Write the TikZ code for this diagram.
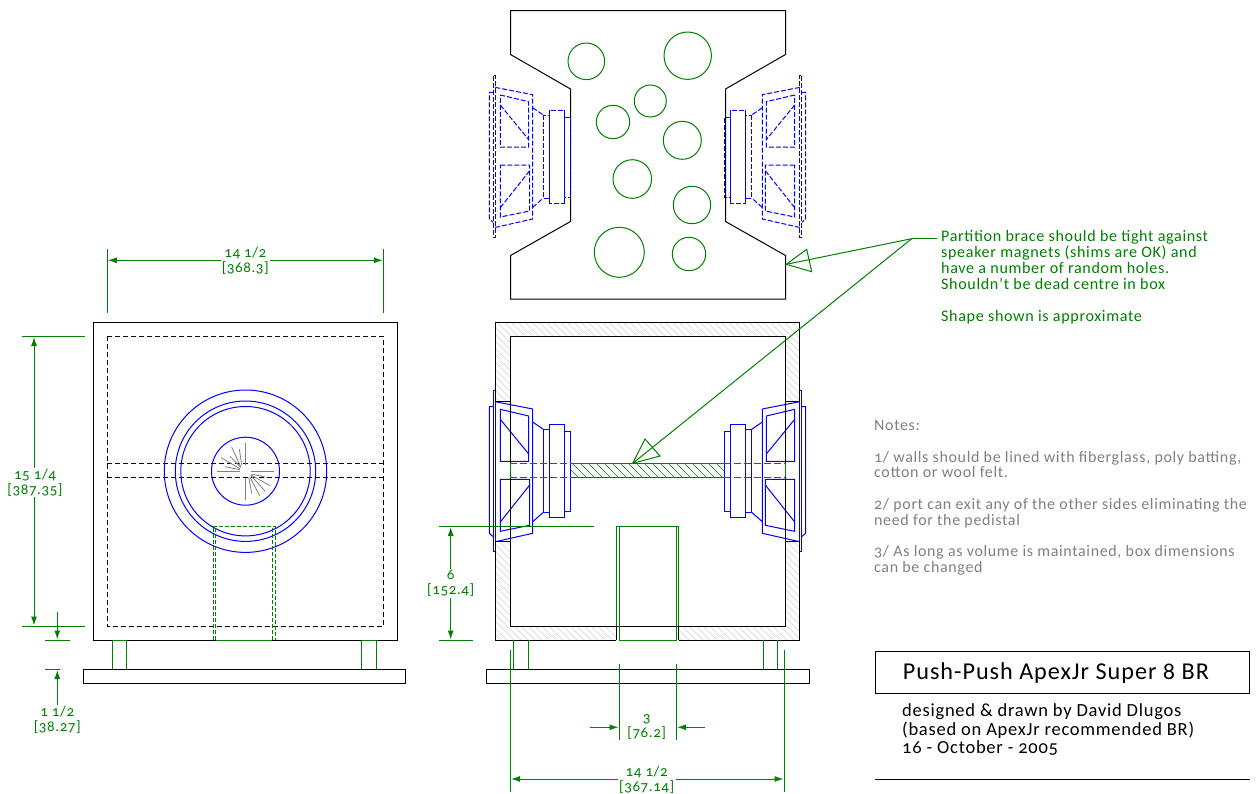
\documentclass[tikz,border=0pt]{standalone}
\usepackage{fontspec}
\setmainfont{Carlito}[Numbers=OldStyle,LetterSpace=4]
\usetikzlibrary{arrows.meta}
\definecolor{dimgreen}{RGB}{0,128,0}
\definecolor{spkblue}{RGB}{0,0,255}
\definecolor{hatchgray}{RGB}{210,210,210}
\definecolor{notegray}{RGB}{128,128,128}
\tikzset{
  boxline/.style={black,line width=1pt},
  hiddenline/.style={black,line width=1pt,dash pattern=on 5pt off 3pt},
  spkline/.style={spkblue,line width=1pt},
  spkhidden/.style={spkblue,line width=1pt,dash pattern=on 5pt off 2pt},
  holeline/.style={dimgreen,line width=1pt},
  porthidden/.style={dimgreen,line width=1pt,dash pattern=on 4pt off 2pt},
  extline/.style={dimgreen,line width=1pt},
  dimarrow/.style={dimgreen,line width=1pt,-{Latex[length=9pt,width=6pt]}},
  wallhatch/.style={hatchgray,line width=0.5pt},
  dimtext/.style={dimgreen,align=center,inner sep=1pt,font=\fontsize{15}{15}\selectfont},
}
% one driver, section through the cone
\newcommand{\drawdriver}[1]{
\draw[#1] (493.3,390) rectangle (495.3,551.7);
\draw[#1] (493.3,406.7) -- (489.3,406.7) -- (489.3,533.3) -- (493.3,536.7);
\draw[#1] (495.3,401.7) -- (532.7,409) -- (532.7,533.3) -- (495.3,541.7);
\draw[#1] (500.3,409.3) -- (528.7,416) -- (528.7,461.3) -- (500.3,461.3) -- cycle;
\draw[#1] (500.3,419.3) -- (528.7,454);
\draw[#1] (500.3,479.3) -- (529.7,479.3) -- (529.7,525.3) -- (500.3,531.3) -- cycle;
\draw[#1] (500.3,522) -- (529.7,485);
\draw[#1] (532.7,422) -- (543.3,429.3);
\draw[#1] (532.7,521.7) -- (543.3,512.3);
\draw[#1] (543.3,429.3) rectangle (549.3,512.3);
\draw[#1] (549.3,424.3) rectangle (564.7,517.3);
\draw[#1] (564.7,431.3) rectangle (570.7,511.7);
}
\begin{document}
\begin{tikzpicture}[x=1pt,y=-1pt]
\useasboundingbox (0,0) rectangle (1256,793);

% partition brace, top
\draw[boxline] (510.5,10.5) -- (785.5,10.5) -- (785.5,54.5) -- (725.5,89) -- (725.5,221.5) -- (785.5,255.5) -- (785.5,299) -- (510.5,299) -- (510.5,255.5) -- (570.5,221.5) -- (570.5,89) -- (510.5,54.5) -- cycle;
\foreach \cx/\cy/\cr in {586.3/61.3/18.3,687.7/55.7/23.7,650.3/101/16,613/122/16.7,682.3/140.3/19,632.3/179/19.3,692/205/18.7,619.3/252.3/25,689/254/16.7}
  \draw[holeline] (\cx,\cy) circle (\cr);

\begin{scope}[shift={(0,-314.3)}]
\drawdriver{spkhidden}
\draw[spkline] (549.3,424.3) -- (549.3,517.3);
\draw[spkline] (564.7,424.3) -- (564.7,517.3);
\end{scope}
\begin{scope}[shift={(1295,-314.3)},xscale=-1]
\drawdriver{spkhidden}
\draw[spkline] (549.3,424.3) -- (549.3,517.3);
\draw[spkline] (564.7,424.3) -- (564.7,517.3);
\end{scope}

% front view
\draw[boxline] (93.3,322.3) rectangle (397.7,640.3);
\draw[hiddenline] (107.3,336.3) rectangle (383.7,626.3);
\draw[hiddenline] (107.3,463.3) -- (383.7,463.3);
\draw[hiddenline] (107.3,477.3) -- (383.7,477.3);
\foreach \cr in {81.2,70.2,64.7,34}
  \draw[spkline] (245.5,471.2) circle (\cr);
\foreach \ax/\ay/\bx/\by in {245.7/443/245.7/465,239.3/449/241.7/465,231.7/447.3/240.7/466.7,230/456.3/240.7/467.3,221/457.7/240/468.7,225/466.7/240/469.7,217.3/471.3/240/471.3,250.7/471.3/274/471.3,251.3/474/265/477,251/475/270/485.7,250.7/475.3/265/491,249.7/476.7/259.7/495.7,248.7/477.3/251.7/493.3,245.7/478.3/245.7/500}
  \draw[notegray,line width=0.8pt] (\ax,\ay) -- (\bx,\by);
\draw[porthidden] (213.3,640.3) -- (213.3,526.3) -- (275.7,526.3) -- (275.7,640.3);
\draw[porthidden] (215.7,640.3) -- (215.7,528) ;
\draw[porthidden] (272.3,640.3) -- (272.3,528);
\draw[holeline] (215.7,640.3) -- (272.3,640.3);
\draw[holeline] (112.3,669.3) -- (112.3,640.3) -- (126.3,640.3) -- (126.3,669.3);
\draw[holeline] (361.3,669.3) -- (361.3,640.3) -- (376.3,640.3) -- (376.3,669.3);
\draw[boxline] (83.3,669.3) rectangle (405.7,683.3);

% section
\begin{scope}
\clip (616.3,640.3) -- (495.3,640.3) -- (495.3,322.3) -- (799.3,322.3) -- (799.3,640.3) -- (678.7,640.3) -- (678.7,626.3) -- (785.3,626.3) -- (785.3,336.3) -- (510.3,336.3) -- (510.3,626.3) -- (616.3,626.3) -- cycle;
\foreach \hx in {175,182,...,800}
  \draw[wallhatch] (\hx,322) -- ++(320,320);
\end{scope}
\fill[white] (496,402) rectangle (510,541.5);
\fill[white] (785.6,402) rectangle (799,541.5);
\begin{scope}
\clip (570.7,463.3) rectangle (724.3,477.3);
\foreach \hx in {540,548,...,724}
  \draw[holeline,line width=0.5pt] (\hx,463) -- ++(16,16);
\end{scope}
\drawdriver{spkline}
\begin{scope}[shift={(1295,0)},xscale=-1]
\drawdriver{spkline}
\end{scope}

\draw[boxline] (616.3,640.3) -- (495.3,640.3) -- (495.3,541.7) -- (510.3,541.7);
\draw[boxline] (495.3,401.7) -- (495.3,322.3) -- (799.3,322.3) -- (799.3,401.7) -- (785.3,401.7);
\draw[boxline] (510.3,401.7) -- (495.3,401.7);
\draw[boxline] (785.3,541.7) -- (799.3,541.7) -- (799.3,640.3) -- (678.7,640.3);
\draw[boxline] (510.3,463.3) -- (510.3,336.3) -- (785.3,336.3) -- (785.3,463.3);
\draw[boxline] (510.3,477.3) -- (510.3,626.3) -- (785.3,626.3) -- (785.3,477.3);
\draw[boxline] (616.3,626.3) -- (616.3,640.3);
\draw[boxline] (678.7,626.3) -- (678.7,640.3);

\draw[holeline] (510.3,463.3) -- (510.3,477.3);
\draw[holeline] (785.3,463.3) -- (785.3,477.3);
\draw[holeline] (570.7,463.3) -- (724.3,463.3);
\draw[holeline] (570.7,477.3) -- (724.3,477.3);
\draw[porthidden,dash pattern=on 7pt off 3pt] (510.3,463.3) -- (570.7,463.3);
\draw[porthidden,dash pattern=on 7pt off 3pt] (510.3,477.3) -- (570.7,477.3);
\draw[porthidden,dash pattern=on 7pt off 3pt] (724.3,463.3) -- (785.3,463.3);
\draw[porthidden,dash pattern=on 7pt off 3pt] (724.3,477.3) -- (785.3,477.3);

\draw[holeline] (616.3,626.3) -- (616.3,526.3) -- (678.7,526.3) -- (678.7,626.3);
\draw[holeline] (619.3,526.3) -- (619.3,640.3) -- (676.3,640.3) -- (676.3,526.3);
\draw[holeline] (513.3,640.3) -- (513.3,669.3);
\draw[holeline] (528.3,640.3) -- (528.3,669.3);
\draw[holeline] (763.7,640.3) -- (763.7,669.3);
\draw[holeline] (777.3,640.3) -- (777.3,669.3);
\draw[boxline] (486.3,669.3) rectangle (809.7,683.3);

% dimensions, front view
\draw[extline] (107.3,249) -- (107.3,312.7);
\draw[extline] (383.3,249) -- (383.3,312.7);
\node[dimtext] (widthfront) at (245.3,261) {14 1/2\\{}[368.3]};
\coordinate (widthfrontl) at (107.8,260.3);
\coordinate (widthfrontr) at (382.8,260.3);
\draw[dimarrow] (widthfront.west |- widthfrontl) -- (widthfrontl);
\draw[dimarrow] (widthfront.east |- widthfrontr) -- (widthfrontr);

\draw[extline] (22,336.3) -- (85,336.3);
\draw[extline] (22,626.3) -- (85,626.3);
\node[dimtext] (heightfront) at (35,482.5) {15 1/4\\{}[387.35]};
\coordinate (heightfrontt) at (34,337);
\coordinate (heightfrontb) at (34,625.5);
\draw[dimarrow] (heightfront.north -| heightfrontt) -- (heightfrontt);
\draw[dimarrow] (heightfront.south -| heightfrontb) -- (heightfrontb);

\draw[extline] (45,640.3) -- (70,640.3);
\draw[extline] (45,669.3) -- (60,669.3);
\node[dimtext] (legfront) at (57.3,719.5) {1 1/2\\{}[38.27]};
\coordinate (legfronta) at (57.3,612);
\coordinate (legfrontb) at (57.3,639.5);
\coordinate (legfrontc) at (57.3,670);
\draw[dimarrow] (legfronta) -- (legfrontb);
\draw[dimarrow] (legfront.north) -- (legfrontc);

% dimensions, section
\draw[extline] (439,526.3) -- (594,526.3);
\draw[extline] (439,640.3) -- (472.7,640.3);
\node[dimtext] (portheight) at (450.7,583.5) {6\\{}[152.4]};
\coordinate (portheightt) at (450.7,527);
\coordinate (portheightb) at (450.7,639.5);
\draw[dimarrow] (portheight.north) -- (portheightt);
\draw[dimarrow] (portheight.south) -- (portheightb);

\draw[extline] (619.3,664) -- (619.3,740);
\draw[extline] (676.3,664) -- (676.3,740);
\node[dimtext] (portwidth) at (646.7,727.5) {3\\{}[76.2]};
\coordinate (portwidtha) at (590,727.3);
\coordinate (portwidthb) at (618.5,727.3);
\coordinate (portwidthc) at (705,727.3);
\coordinate (portwidthd) at (677,727.3);
\draw[dimarrow] (portwidtha) -- (portwidthb);
\draw[dimarrow] (portwidthc) -- (portwidthd);

\draw[extline] (510.3,650) -- (510.3,792);
\draw[extline] (784.3,650) -- (784.3,792);
\node[dimtext] (widthsect) at (646.7,779.5) {14 1/2\\{}[367.14]};
\coordinate (widthsectl) at (511,779);
\coordinate (widthsectr) at (783.5,779);
\draw[dimarrow] (widthsect.west |- widthsectl) -- (widthsectl);
\draw[dimarrow] (widthsect.east |- widthsectr) -- (widthsectr);

% leaders to the brace
\coordinate (leader) at (911.7,238.7);
\coordinate (leaderend) at (936.7,238.7);
\coordinate (tiptop) at (786.3,264.3);
\coordinate (tipsect) at (632.7,463.3);
\draw[holeline] (leaderend) -- (leader);
\draw[holeline] (leader) -- (tiptop);
\draw[holeline] (leader) -- (tipsect);
\draw[holeline] (tiptop) -- (806.7,249.3) -- (811.7,271.7) -- cycle;
\draw[holeline] (tipsect) -- (645,439) -- (660,456) -- cycle;

\node[dimgreen,anchor=north west,align=left,inner sep=0,font=\fontsize{16.1}{16}\selectfont] (bracenote) at (941,230) {Partition brace should be tight against\\speaker magnets (shims are OK) and\\have a number of random holes.\\Shouldn't be dead centre in box\\\mbox{}\\Shape shown is approximate};

\node[notegray,anchor=north west,align=left,inner sep=0,font=\fontsize{16}{15.8}\selectfont] (notes) at (874,420) {Notes:\\\mbox{}\\1/ walls should be lined with fiberglass, poly batting,\\cotton or wool felt.\\\mbox{}\\2/ port can exit any of the other sides eliminating the\\need for the pedistal\\\mbox{}\\3/ As long as volume is maintained, box dimensions\\can be changed};

% title block
\node[boxline,draw,minimum width=374.4pt,minimum height=42pt,inner sep=0] (titlebox) at (1062.5,672.3) {};
\node[anchor=west,inner sep=0,font=\fontsize{24.2}{24}\selectfont] (title) at (902.7,673.5) {Push-Push ApexJr Super 8 BR};
\node[anchor=north west,align=left,inner sep=0,font=\fontsize{18.5}{18.7}\selectfont] (credit) at (902,703.5) {designed \& drawn by David Dlugos\\(based on ApexJr recommended BR)\\16 - October - 2005};
\draw[boxline] (875.3,779) -- (1249.7,779);

\end{tikzpicture}
\end{document}
